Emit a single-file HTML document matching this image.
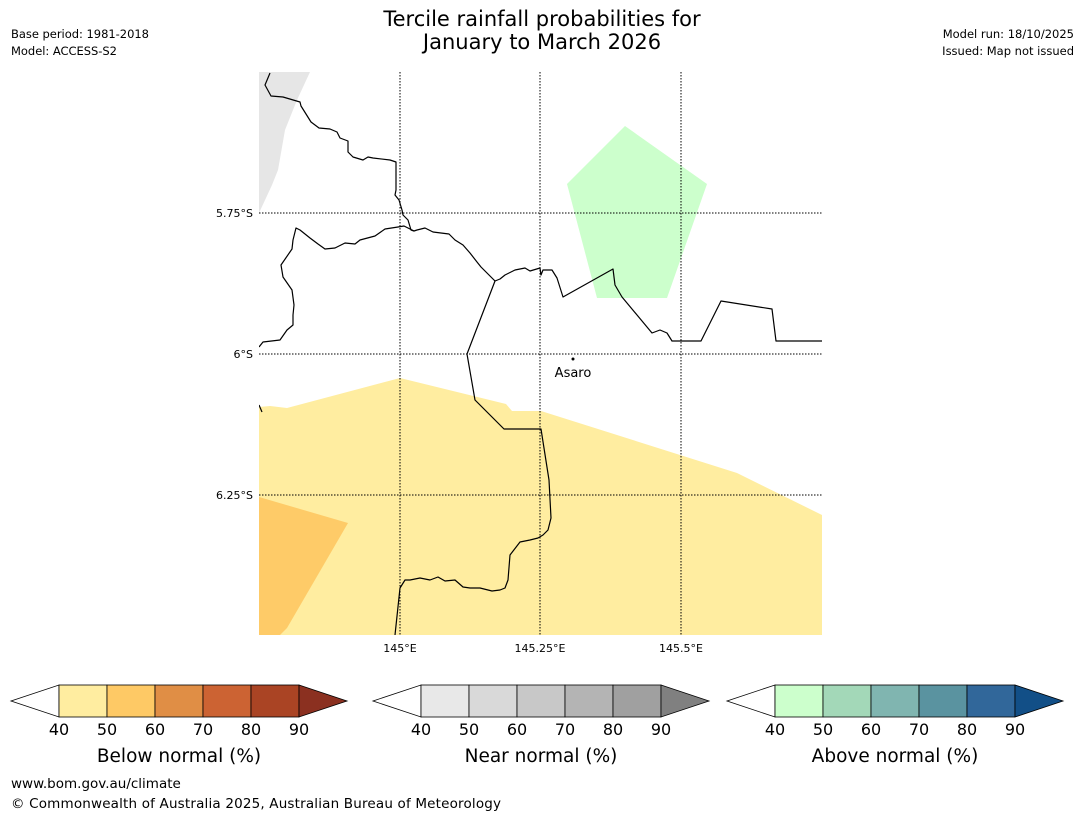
<!DOCTYPE html>
<html><head><meta charset="utf-8"><style>
body{margin:0;background:#fff;}
svg text{font-family:"DejaVu Sans","Liberation Sans",sans-serif;}
</style></head><body>
<svg width="1085" height="816" viewBox="0 0 1085 816" xmlns="http://www.w3.org/2000/svg">
<rect width="1085" height="816" fill="#fff"/>
<text x="542" y="26" font-size="21" text-anchor="middle">Tercile rainfall probabilities for</text>
<text x="542" y="49" font-size="21" text-anchor="middle">January to March 2026</text>
<text x="11" y="38" font-size="11.5" textLength="138">Base period: 1981-2018</text>
<text x="11" y="55" font-size="11.5" textLength="106">Model: ACCESS-S2</text>
<text x="1074" y="38" font-size="11.5" text-anchor="end">Model run: 18/10/2025</text>
<text x="1074" y="55" font-size="11.5" text-anchor="end">Issued: Map not issued</text>
<defs><clipPath id="m"><rect x="259" y="72" width="563" height="563"/></clipPath></defs>
<g clip-path="url(#m)">
<polygon fill="#e6e6e6" points="259,72 310,72 297,100 285,130 278,170 272,185 259,213"/>
<polygon fill="#ccffcc" points="567,184 625,126 707,184 667,298 597,298"/>
<polygon fill="#ffeda0" points="259,407 270,406 287,408 400,378 506,404 512,411 541,411 737,473 822,515 822,635 259,635"/>
<polygon fill="#fecb68" points="259,497 348,523 287,628 280,635 259,635"/>
<g stroke="#000" stroke-width="1" stroke-dasharray="1.5,1.5" fill="none">
<line x1="400" y1="72" x2="400" y2="635"/><line x1="540" y1="72" x2="540" y2="635"/><line x1="681" y1="72" x2="681" y2="635"/>
<line x1="259" y1="213" x2="822" y2="213"/><line x1="259" y1="354" x2="822" y2="354"/><line x1="259" y1="495" x2="822" y2="495"/>
</g>
<g stroke="#000" stroke-width="1.2" fill="none" stroke-linejoin="round">
<polyline points="270,73 265,85 271,96 283,97 300,102 301,106 311,122 319,128 330,129 337,132 340,138 348,141 348,152 353,157 363,160 368,157 373,158 390,160 396,162 396,190 395,195 399,200 402,210 403,215 408,220 411,230 414,231 417,230 425,228 433,232 449,234 455,240 463,245 470,253 477,262 481,267 495,281 500,279 505,275 515,270 525,268 530,271 540,268 541,275 543,270 552,270 557,278 563,297 613,269 615,285 622,297 652,333 660,330 667,333 672,341 701,341 721,301 772,309 776,341 822,341"/>
<polyline points="259,347 263,342 280,340 287,330 293,325 293,315 294,305 292,290 283,277 281,265 292,249 293,240 296,228 300,230 310,238 318,244 325,249 335,248 345,243 355,244 360,240 375,236 385,229 398,227 404,226 414,231"/>
<polyline points="495,281 467,354 475,400 504,429 541,429 549,480 551,518 548,530 543,535 538,538 530,540 520,542 510,555 508,580 505,588 500,590 492,591 480,588 470,588 463,587 455,580 445,581 438,577 430,580 420,578 410,580 405,580 400,588 395,635"/>
<polyline points="259,405 262,412"/>
</g>
</g>
<circle cx="573" cy="359" r="1.5" fill="#000"/>
<text x="573" y="377" font-size="13" text-anchor="middle">Asaro</text>
<g font-size="11">
<text x="253" y="217" text-anchor="end">5.75°S</text>
<text x="253" y="358" text-anchor="end">6°S</text>
<text x="253" y="499" text-anchor="end">6.25°S</text>
<text x="400" y="652" text-anchor="middle">145°E</text>
<text x="540" y="652" text-anchor="middle">145.25°E</text>
<text x="681" y="652" text-anchor="middle">145.5°E</text>
</g>
<g stroke="#000" stroke-width="0.8">
<polygon points="11,701 59,685 59,717" fill="#fff"/>
<rect x="59" y="685" width="48" height="32" fill="#ffeda0"/><rect x="107" y="685" width="48" height="32" fill="#fec965"/><rect x="155" y="685" width="48" height="32" fill="#e08e45"/><rect x="203" y="685" width="48" height="32" fill="#cc6333"/><rect x="251" y="685" width="48" height="32" fill="#aa4424"/>
<polygon points="299,685 347,701 299,717" fill="#8b3020"/>
<polygon points="373,701 421,685 421,717" fill="#fff"/>
<rect x="421" y="685" width="48" height="32" fill="#e8e8e8"/><rect x="469" y="685" width="48" height="32" fill="#d9d9d9"/><rect x="517" y="685" width="48" height="32" fill="#c8c8c8"/><rect x="565" y="685" width="48" height="32" fill="#b4b4b4"/><rect x="613" y="685" width="48" height="32" fill="#a0a0a0"/>
<polygon points="661,685 709,701 661,717" fill="#808080"/>
<polygon points="727,701 775,685 775,717" fill="#fff"/>
<rect x="775" y="685" width="48" height="32" fill="#ccffcc"/><rect x="823" y="685" width="48" height="32" fill="#a3d8b8"/><rect x="871" y="685" width="48" height="32" fill="#80b5b0"/><rect x="919" y="685" width="48" height="32" fill="#5a93a0"/><rect x="967" y="685" width="48" height="32" fill="#31679a"/>
<polygon points="1015,685 1063,701 1015,717" fill="#124f87"/>
</g>
<g font-size="16" text-anchor="middle">
<text x="59" y="735">40</text><text x="107" y="735">50</text><text x="155" y="735">60</text><text x="203" y="735">70</text><text x="251" y="735">80</text><text x="299" y="735">90</text>
<text x="421" y="735">40</text><text x="469" y="735">50</text><text x="517" y="735">60</text><text x="565" y="735">70</text><text x="613" y="735">80</text><text x="661" y="735">90</text>
<text x="775" y="735">40</text><text x="823" y="735">50</text><text x="871" y="735">60</text><text x="919" y="735">70</text><text x="967" y="735">80</text><text x="1015" y="735">90</text>
</g>
<g font-size="18.5" text-anchor="middle">
<text x="179" y="762">Below normal (%)</text>
<text x="541" y="762">Near normal (%)</text>
<text x="895" y="762">Above normal (%)</text>
</g>
<text x="11" y="788" font-size="13.5">www.bom.gov.au/climate</text>
<text x="11" y="808" font-size="13.5" textLength="490">© Commonwealth of Australia 2025, Australian Bureau of Meteorology</text>
</svg>
</body></html>
